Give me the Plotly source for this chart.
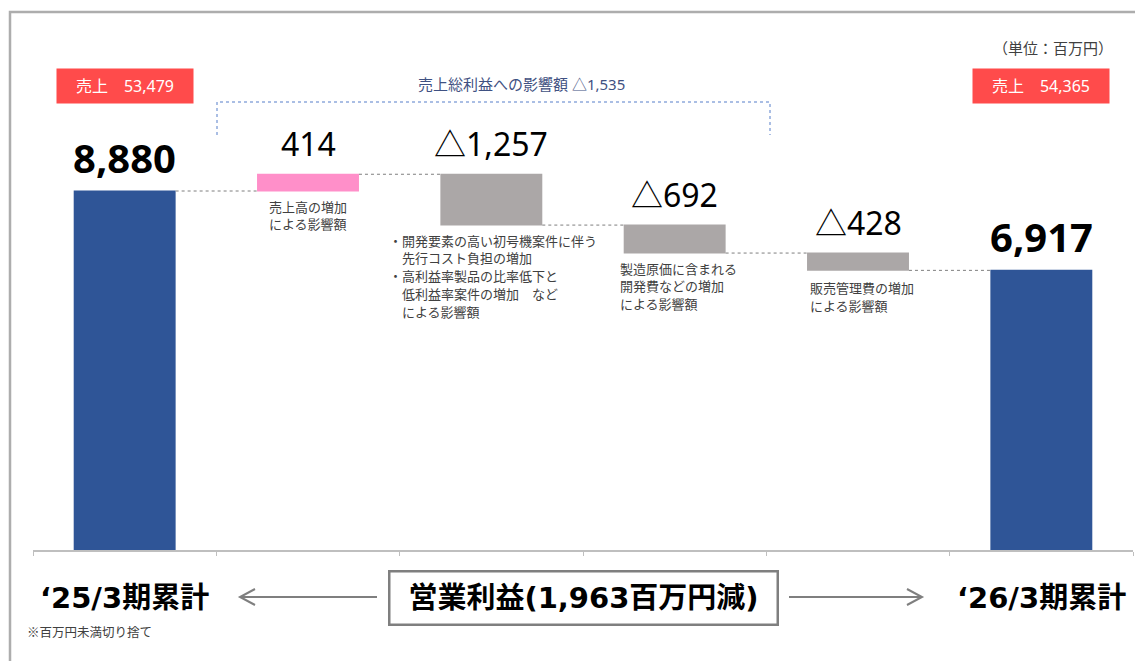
import plotly.graph_objects as go

# ---------------- data ----------------
categories = ["‘25/3期累計", "売上高の増加", "開発コスト等", "製造原価", "販売管理費", "‘26/3期累計"]
values = [8880, 414, -1257, -692, -428, 6917]
measures = ["absolute", "relative", "relative", "relative", "relative", "total"]
sales = [53479, 54365]
gross_profit_effect = -1535
op_profit_change = -1963
notes = [
    None,
    ["売上高の増加", "による影響額"],
    ["・開発要素の高い初号機案件に伴う", "　先行コスト負担の増加", "・高利益率製品の比率低下と",
     "　低利益率案件の増加　など", "　による影響額"],
    ["製造原価に含まれる", "開発費などの増加", "による影響額"],
    ["販売管理費の増加", "による影響額"],
    None,
]

# ---------------- helpers ----------------
OFF = 8                      # page body margin
W, H = 1143 - OFF, 661 - OFF
L, R, T, B = 25, 10, 53, 111
PW, PH = W - L - R, H - T - B


def px(x):  # screen x -> paper
    return (x - OFF - L) / PW


def py(y):  # screen y -> paper
    return (H - B - (y - OFF)) / PH


def fmt(v):
    return ("△" if v < 0 else "") + f"{abs(v):,}"


# bar tops/bottoms computed from data
tops, bottoms = [], []
run = 0
for v, m in zip(values, measures):
    if m == "absolute":
        start, end = 0, v
        run = v
    elif m == "total":
        start, end = 0, run
    else:
        start, end = run, run + v
        run = run + v
    tops.append(max(start, end))
    bottoms.append(min(start, end))

BLUE = "#2F5597"
PINK = "#FF8FC9"
GRAY = "#ABA7A7"
RED = "#FF4B4B"
TXT = "#404040"
JP = "Noto Sans CJK JP"
NUM = "Noto Sans, Noto Sans CJK JP"
WIDE = "DejaVu Sans, Noto Sans CJK JP"

fig = go.Figure(
    go.Waterfall(
        x=categories,
        y=values,
        measure=measures,
        increasing=dict(marker=dict(color=PINK)),
        decreasing=dict(marker=dict(color=GRAY)),
        totals=dict(marker=dict(color=BLUE)),
        connector=dict(mode="between", line=dict(color="#7F7F7F", width=1, dash="dot")),
        textinfo="none",
        hoverinfo="skip",
    )
)

ann = []
# value labels
for i, (c, v, m) in enumerate(zip(categories, values, measures)):
    is_total = m in ("absolute", "total")
    val = tops[i] if m == "total" else v
    ann.append(dict(
        x=c, xref="x", y=tops[i], yref="y", yanchor="middle", yshift=34 if is_total else 31,
        text=f"<b>{fmt(val)}</b>" if is_total else fmt(val), showarrow=False,
        font=dict(family=NUM, size=40 if is_total else 32, color="#000000"),
    ))

# notes under bars (one annotation per line)
note_shift = [0, -41, -104, -57, -50, 0]
note_first = [0, 15, 15, 15, 17, 0]
for i, lines in enumerate(notes):
    if lines is None:
        continue
    for k, line in enumerate(lines):
        ann.append(dict(
            x=categories[i], xref="x", xanchor="left", xshift=note_shift[i],
            y=bottoms[i], yref="y", yanchor="middle", yshift=-(note_first[i] + 17.8 * k),
            text=line, align="left", showarrow=False,
            font=dict(family=JP, size=13, color=TXT),
        ))

# sales boxes
for c, s in zip([categories[0], categories[-1]], sales):
    ann.append(dict(
        x=c, xref="x", y=py(86), yref="paper", yanchor="middle",
        text=f"売上　{s:,}", showarrow=False, width=134, height=32,
        bgcolor=RED, borderpad=1,
        font=dict(family=NUM, size=16, color="white"),
    ))

# unit
ann.append(dict(
    x=px(1115), xref="paper", xanchor="right", y=py(47), yref="paper", yanchor="middle",
    text="（単位：百万円）", showarrow=False, font=dict(family=JP, size=15, color=TXT),
))

# gross profit bracket text
ann.append(dict(
    x=px(521), xref="paper", y=py(84), yref="paper", yanchor="middle",
    text=f"売上総利益への影響額 {fmt(gross_profit_effect)}", showarrow=False,
    font=dict(family=NUM, size=15, color="#3F5182"),
))

# bottom period labels
for c in [categories[0], categories[-1]]:
    ann.append(dict(
        x=c, xref="x", y=py(598), yref="paper", yanchor="middle",
        text=f"<b>{c}</b>", showarrow=False,
        font=dict(family=WIDE, size=29, color="#000000"),
    ))

# operating profit box
ann.append(dict(
    x=px(583), xref="paper", y=py(598), yref="paper", yanchor="middle",
    text=f"<b>営業利益({abs(op_profit_change):,}百万円{'減' if op_profit_change < 0 else '増'})</b>",
    showarrow=False, width=384, height=49, borderpad=1,
    bordercolor="#7F7F7F", borderwidth=2.5, bgcolor="white",
    font=dict(family=WIDE, size=29, color="#000000"),
))

# footnote
ann.append(dict(
    x=px(25), xref="paper", xanchor="left", y=py(631), yref="paper", yanchor="middle",
    text="※百万円未満切り捨て", showarrow=False, font=dict(family=JP, size=12.5, color=TXT),
))

shapes = [
    # outer frame
    dict(type="rect", xref="paper", yref="paper", x0=px(10), x1=px(1160), y0=py(700), y1=py(12),
         line=dict(color="#ADADAD", width=2.5), fillcolor="rgba(0,0,0,0)", layer="below"),
    # bracket
    dict(type="path", xref="paper", yref="paper",
         path=f"M {px(217)},{py(135)} L {px(217)},{py(102)} L {px(770)},{py(102)} L {px(770)},{py(135)}",
         line=dict(color="#8EA9DB", width=1.5, dash="dot")),
    # left arrow
    dict(type="path", xref="paper", yref="paper",
         path=f"M {px(377)},{py(597)} L {px(240)},{py(597)} M {px(255)},{py(589)} L {px(240)},{py(597)} L {px(255)},{py(605)}",
         line=dict(color="#7F7F7F", width=2)),
    # right arrow
    dict(type="path", xref="paper", yref="paper",
         path=f"M {px(789)},{py(597)} L {px(922)},{py(597)} M {px(907)},{py(589)} L {px(922)},{py(597)} L {px(907)},{py(605)}",
         line=dict(color="#7F7F7F", width=2)),
]

fig.update_layout(
    width=W, height=H,
    margin=dict(l=L, r=R, t=T, b=B),
    paper_bgcolor="white", plot_bgcolor="white",
    showlegend=False,
    waterfallgap=0.444,
    annotations=ann,
    shapes=shapes,
    font=dict(family=JP),
    xaxis=dict(
        type="category", range=[-0.5, 5.5], showline=True, linecolor="#BFBFBF", linewidth=2,
        ticks="outside", tickson="boundaries", ticklen=4, tickcolor="#BFBFBF", tickwidth=1,
        showticklabels=False, showgrid=False, zeroline=False, fixedrange=True,
    ),
    yaxis=dict(
        range=[0, 8880 * PH / 359], visible=False, showgrid=False, zeroline=False,
        fixedrange=True,
    ),
)

fig.write_html("out.html")
